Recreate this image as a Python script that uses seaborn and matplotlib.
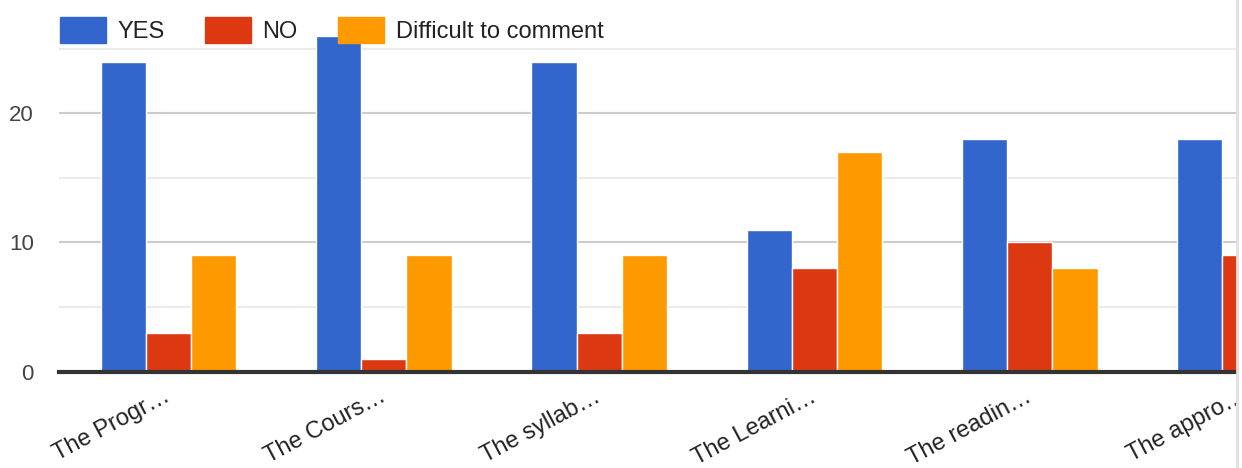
import pandas as pd
import seaborn as sns
import matplotlib.pyplot as plt
import matplotlib.transforms as mtransforms
from matplotlib.lines import Line2D
from matplotlib.patches import Rectangle

categories = ['The Progr…', 'The Cours…', 'The syllab…', 'The Learni…', 'The readin…', 'The appro…']
yes_vals = [24, 26, 24, 11, 18, 18]
no_vals = [3, 1, 3, 8, 10, 9]
difficult_vals = [9, 9, 9, 17, 8, 9]  # last one is cut off in the picture
series = ['YES', 'NO', 'Difficult to comment']
colors = ['#3366cc', '#dc3912', '#ff9900']

rows = []
for i, c in enumerate(categories):
    rows.append((c, 'YES', yes_vals[i]))
    rows.append((c, 'NO', no_vals[i]))
    rows.append((c, 'Difficult to comment', difficult_vals[i]))
df = pd.DataFrame(rows, columns=['question', 'answer', 'count'])

sns.set_theme(style='white')
plt.rcParams['font.family'] = ['Liberation Sans', 'DejaVu Sans']

W, H = 1242, 468
fig = plt.figure(figsize=(W / 100, H / 100), dpi=100)
# the chart runs past the right edge and is cut off there, like the original
x_left, x_right = -0.509, 5.6
ax_l = 59
ax_r = 168.5 + x_right * 215.3
ax = fig.add_axes([ax_l / W, (H - 371.5) / H, (ax_r - ax_l) / W, 342 / H])

sns.barplot(data=df, x='question', y='count', hue='answer', hue_order=series,
            palette=colors, width=0.63, saturation=1, edgecolor='white',
            linewidth=1, ax=ax, legend=False)

ax.set_xlim(x_left, x_right)
ax.set_ylim(0, 26.5)
ax.set_yticks([0, 10, 20])
ax.set_yticks([5, 15, 25], minor=True)
ax.grid(axis='y', which='major', color='#cccccc', linewidth=1.5)
ax.grid(axis='y', which='minor', color='#ebebeb', linewidth=1.5)
ax.set_axisbelow(True)
for s in ['top', 'right', 'left']:
    ax.spines[s].set_visible(False)
ax.spines['bottom'].set_color('#333333')
ax.spines['bottom'].set_linewidth(3)
ax.tick_params(axis='y', which='both', length=0, labelsize=16, labelcolor='#444444', pad=18)
ax.tick_params(axis='x', length=0, labelsize=17, labelcolor='#222222', pad=10)
ax.set_xlabel('')
ax.set_ylabel('')
shift = mtransforms.ScaledTranslation(-5 / 100, 0, fig.dpi_scale_trans)
for lab in ax.get_xticklabels():
    lab.set_rotation(28)
    lab.set_ha('right')
    lab.set_rotation_mode('anchor')
    lab.set_transform(lab.get_transform() + shift)

handles = [plt.Rectangle((0, 0), 1, 1, color=c) for c in colors]
fig.legend(handles, series, loc='upper left', bbox_to_anchor=(43 / W, 1.0),
           ncol=3, frameon=False, fontsize=17, handlelength=1.95, handleheight=1.38,
           handletextpad=0.5, columnspacing=1.7, labelcolor='#222222',
           borderaxespad=0.3)

# cut-off edge on the right
fig.add_artist(Rectangle((1237 / W, 0), 5 / W, 1, color='white', zorder=10))
fig.add_artist(Line2D([1237 / W, 1237 / W], [0, 1], color='#e0e0e0', linewidth=2, zorder=11))

plt.savefig('out.png', dpi=100)
